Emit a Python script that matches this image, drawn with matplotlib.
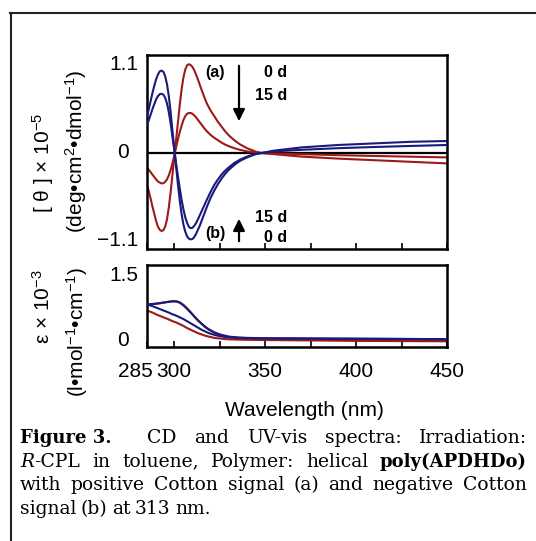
import matplotlib
matplotlib.use("Agg")
import matplotlib.pyplot as plt
from matplotlib.lines import Line2D
from matplotlib.patches import FancyArrowPatch
from matplotlib.transforms import ScaledTranslation, blended_transform_factory

plt.rcParams['font.family'] = ['Liberation Sans', 'DejaVu Sans']
plt.rcParams['mathtext.fontset'] = 'custom'
plt.rcParams['mathtext.rm'] = 'Liberation Sans'
plt.rcParams['mathtext.it'] = 'Liberation Sans:italic'
plt.rcParams['mathtext.default'] = 'regular'

# ---------------- data ----------------
cd_wl = [285, 286, 287, 288, 289, 290, 291, 292, 293, 294,
         295, 296, 297, 298, 299, 300, 301, 302, 303, 304,
         305, 306, 307, 308, 309, 310, 311, 312, 313, 314,
         315, 316, 317, 318,
         320, 322, 324, 326, 328, 330, 333, 336, 340, 345, 348,
         355, 370, 390, 410, 430, 450]
cd_a_0d = [-0.40, -0.48, -0.57, -0.67, -0.76, -0.85, -0.92, -0.96, -0.975, -0.965,
           -0.92, -0.83, -0.68, -0.49, -0.27, -0.06, 0.16, 0.38, 0.60, 0.79,
           0.94, 1.04, 1.095, 1.11, 1.10, 1.075, 1.035, 0.98, 0.92, 0.855,
           0.79, 0.73, 0.67, 0.615,
           0.53, 0.46, 0.39, 0.33, 0.27, 0.22, 0.16, 0.11, 0.06, 0.015, 0.0,
           -0.015, -0.045, -0.07, -0.09, -0.11, -0.13]
cd_a_15d = [-0.19, -0.21, -0.24, -0.27, -0.30, -0.33, -0.355, -0.37, -0.38, -0.378,
            -0.36, -0.33, -0.28, -0.21, -0.13, -0.03, 0.07, 0.17, 0.26, 0.34,
            0.41, 0.46, 0.49, 0.50, 0.50, 0.49, 0.47, 0.445, 0.415, 0.385,
            0.355, 0.325, 0.295, 0.27,
            0.225, 0.19, 0.16, 0.13, 0.105, 0.085, 0.06, 0.04, 0.02, 0.005, 0.0,
            -0.005, -0.015, -0.027, -0.037, -0.046, -0.055]
cd_b_0d = [0.46, 0.55, 0.65, 0.75, 0.84, 0.92, 0.98, 1.02, 1.03, 1.015,
           0.96, 0.86, 0.71, 0.51, 0.28, 0.06, -0.17, -0.39, -0.59, -0.76,
           -0.89, -0.98, -1.04, -1.07, -1.08, -1.075, -1.05, -1.01, -0.96, -0.91,
           -0.85, -0.79, -0.73, -0.67,
           -0.56, -0.47, -0.39, -0.32, -0.26, -0.21, -0.15, -0.10, -0.055, -0.012, 0.0,
           0.03, 0.07, 0.10, 0.12, 0.14, 0.15]
cd_b_15d = [0.35, 0.41, 0.48, 0.55, 0.61, 0.67, 0.71, 0.735, 0.74, 0.73,
            0.69, 0.62, 0.51, 0.37, 0.20, 0.04, -0.13, -0.29, -0.44, -0.58,
            -0.70, -0.80, -0.87, -0.92, -0.94, -0.935, -0.91, -0.875, -0.83, -0.78,
            -0.73, -0.68, -0.63, -0.58,
            -0.485, -0.40, -0.33, -0.27, -0.22, -0.18, -0.125, -0.085, -0.045, -0.01, 0.0,
            0.02, 0.04, 0.06, 0.075, 0.088, 0.10]

uv_wl = [285, 288, 291, 294, 297, 299, 301, 303, 305, 307, 309, 311, 313, 315, 317,
         319, 322, 325, 330, 335, 340, 350, 375, 400, 425, 450]
uv_a_0d = [0.83, 0.84, 0.855, 0.875, 0.895, 0.905, 0.905, 0.88, 0.82, 0.74, 0.65, 0.55,
           0.46, 0.38, 0.30, 0.24, 0.17, 0.12, 0.07, 0.045, 0.03, 0.02, 0.01, 0.0,
           -0.01, -0.02]
uv_a_15d = [0.69, 0.64, 0.58, 0.53, 0.48, 0.44, 0.41, 0.37, 0.33, 0.28, 0.24, 0.20,
            0.16, 0.13, 0.10, 0.08, 0.05, 0.035, 0.015, 0.01, 0.005, 0.0, -0.01, -0.02,
            -0.025, -0.03]
uv_b_0d = [0.83, 0.84, 0.85, 0.87, 0.89, 0.90, 0.90, 0.87, 0.81, 0.73, 0.64, 0.55,
           0.46, 0.38, 0.31, 0.25, 0.18, 0.13, 0.08, 0.06, 0.05, 0.04, 0.035, 0.03,
           0.025, 0.02]
uv_b_15d = [0.83, 0.79, 0.74, 0.69, 0.64, 0.60, 0.57, 0.53, 0.49, 0.44, 0.39, 0.34,
            0.29, 0.24, 0.20, 0.16, 0.12, 0.09, 0.06, 0.05, 0.045, 0.04, 0.035, 0.03,
            0.025, 0.02]

x_ticks = [285, 300, 325, 350, 375, 400, 425, 450]
x_ticklabels = ['285', '300', '', '350', '', '400', '', '450']
cd_yticks = [1.1, 0, -1.1]
cd_yticklabels = ['1.1', '0', '\u22121.1']
uv_yticks = [1.5, 0]
uv_yticklabels = ['1.5', '0']

RED = '#9b1a1a'
BLUE = '#1a1a7d'

W, H = 536, 541
fig = plt.figure(figsize=(W / 100, H / 100), dpi=100)


def fx(x):
    return x / W


def fy(y):
    return 1 - y / H


# border lines
fig.add_artist(Line2D([fx(10.5), fx(10.5)], [fy(12.5), fy(541)], color='#222222', lw=1.5))
fig.add_artist(Line2D([fx(10), fx(536)], [fy(12.5), fy(12.5)], color='#222222', lw=1.5))

ax1 = fig.add_axes([fx(147), fy(249), (447 - 147) / W, (249 - 55) / H])
ax2 = fig.add_axes([fx(147), fy(346.7), (447 - 147) / W, (346.7 - 265) / H])

lw = 1.5
ax1.axhline(0, color='black', lw=1.6, zorder=1)
ax1.plot(cd_wl, cd_a_0d, color=RED, lw=lw, zorder=2)
ax1.plot(cd_wl, cd_a_15d, color=RED, lw=lw, zorder=2)
ax1.plot(cd_wl, cd_b_0d, color=BLUE, lw=lw, zorder=3)
ax1.plot(cd_wl, cd_b_15d, color=BLUE, lw=lw, zorder=3)
ax1.set_ylim(-1.2, 1.225)

ax2.plot(uv_wl, uv_a_15d, color=RED, lw=lw, zorder=2)
ax2.plot(uv_wl, uv_a_0d, color=RED, lw=lw, zorder=2)
ax2.plot(uv_wl, uv_b_15d, color=BLUE, lw=lw, zorder=3)
ax2.plot(uv_wl, uv_b_0d, color=BLUE, lw=lw, zorder=3)
ax2.set_ylim(-0.156, 1.75)

for ax in (ax1, ax2):
    ax.set_xlim(285, 450)
    ax.set_xticks(x_ticks)
    ax.tick_params(axis='x', direction='in', length=4, width=1.2, top=False)
    ax.tick_params(axis='y', length=0, left=False, labelleft=False)
    for s in ax.spines.values():
        s.set_linewidth(1.8)

ax1.set_xticklabels([])
ax2.set_xticklabels(x_ticklabels, fontsize=15)
ax2.tick_params(axis='x', pad=11)
lab285 = ax2.get_xticklabels()[0]
lab285.set_horizontalalignment('right')
lab285.set_transform(lab285.get_transform() + ScaledTranslation(4 / 72, 0, fig.dpi_scale_trans))

# y tick labels as text
for ax, ticks, labels in ((ax1, cd_yticks, cd_yticklabels), (ax2, uv_yticks, uv_yticklabels)):
    tr = blended_transform_factory(ax.transAxes, ax.transData)
    for t, l in zip(ticks, labels):
        if l == '0':
            ax.text(-24 / 300, t, l, transform=tr, ha='center', va='center', fontsize=15)
        else:
            ax.text(-9 / 300, t, l, transform=tr, ha='right', va='center', fontsize=15)

# axis labels
fig.text(fx(43), fy(163), r'[ $\theta$ ] $\times$ 10$^{-5}$', rotation=90,
         ha='center', va='center', fontsize=15)
fig.text(fx(76), fy(151), '(deg\u2022cm$^{2}$\u2022dmol$^{-1}$)', rotation=90,
         ha='center', va='center', fontsize=15)
fig.text(fx(43), fy(307), r'$\varepsilon$ $\times$ 10$^{-3}$', rotation=90,
         ha='center', va='center', fontsize=15)
fig.text(fx(77), fy(332), '(l\u2022mol$^{-1}$\u2022cm$^{-1}$)', rotation=90,
         ha='center', va='center', fontsize=15)
fig.text(fx(304), fy(410), 'Wavelength (nm)', ha='center', va='center', fontsize=15)

# annotations
ann = dict(fontsize=11.5, fontweight='bold', va='center')
fig.text(fx(215), fy(73), '(a)', ha='center', **ann)
fig.text(fx(287), fy(73), '0 d', ha='right', **ann)
fig.text(fx(287), fy(95), '15 d', ha='right', **ann)
fig.text(fx(215), fy(234), '(b)', ha='center', **ann)
fig.text(fx(287), fy(218), '15 d', ha='right', **ann)
fig.text(fx(287), fy(237), '0 d', ha='right', **ann)
fig.add_artist(FancyArrowPatch((fx(239), fy(63)), (fx(239), fy(124)),
               transform=fig.transFigure, arrowstyle='-|>,head_length=7,head_width=3.5',
               mutation_scale=1, lw=1.6, color='black'))
fig.add_artist(FancyArrowPatch((fx(239), fy(244)), (fx(239), fy(216)),
               transform=fig.transFigure, arrowstyle='-|>,head_length=7,head_width=3.5',
               mutation_scale=1, lw=1.6, color='black'))

# caption (justified)
SERIF = 'DejaVu Serif'
normal = dict(family=SERIF, fontsize=13.5)
bold = dict(family=SERIF, fontsize=13, fontweight='bold')
ital = dict(family=SERIF, fontsize=13.5, style='italic')

lines = [
    [[('Figure 3.', bold)], None, [('CD', normal)], [('and', normal)], [('UV-vis', normal)],
     [('spectra:', normal)], [('Irradiation:', normal)]],
    [[('R', ital), ('-CPL', normal)], [('in', normal)], [('toluene,', normal)],
     [('Polymer:', normal)], [('helical', normal)], [('poly(APDHDo)', bold)]],
    [[('with', normal)], [('positive', normal)], [('Cotton', normal)], [('signal', normal)],
     [('(a)', normal)], [('and', normal)], [('negative', normal)], [('Cotton', normal)]],
    [[('signal', normal)], [('(b)', normal)], [('at', normal)], [('313', normal)],
     [('nm.', normal)]],
]
x_left, x_right = 20, 527
base0, dy = 443, 23.7
renderer = fig.canvas.get_renderer()
for i, line in enumerate(lines):
    yb = base0 + i * dy
    measured = []
    for tok in line:
        if tok is None:
            measured.append(None)
            continue
        segs = []
        for s, st in tok:
            t = fig.text(0, 0, s, **st)
            w = t.get_window_extent(renderer).width
            t.remove()
            segs.append((s, st, w))
        measured.append(segs)
    total = sum(sum(w for _, _, w in m) for m in measured if m is not None)
    ngaps = len(line) - 1
    if i < len(lines) - 1:
        gap = (x_right - x_left - total) / ngaps
    else:
        gap = 4.5
    x = x_left
    for m in measured:
        if m is None:
            x += gap
            continue
        for s, st, w in m:
            fig.text(fx(x), fy(yb), s, ha='left', va='baseline', **st)
            x += w
        x += gap

fig.savefig('out.png', dpi=100)
